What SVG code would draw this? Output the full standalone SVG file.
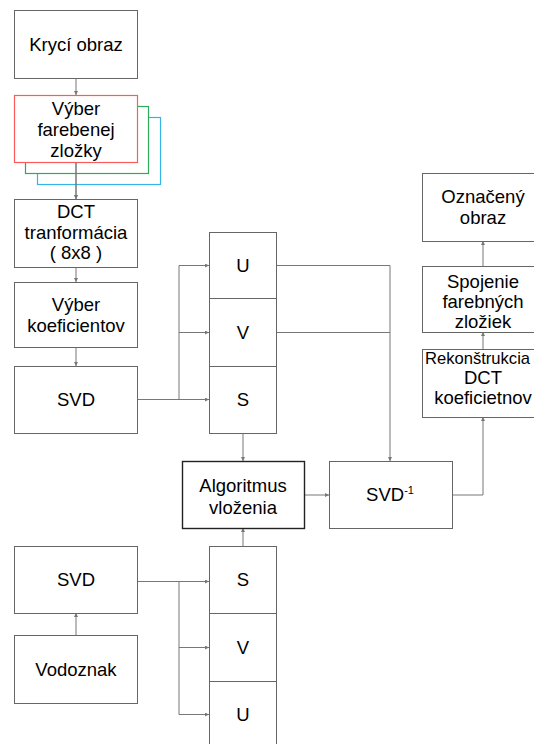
<svg xmlns="http://www.w3.org/2000/svg" width="534" height="744" viewBox="0 0 534 744">
  <style>
    .box { fill: #fff; stroke: #666; stroke-width: 1; }
    .strong { fill: #fff; stroke: #222; stroke-width: 1.4; }
    .t { font-family: "Liberation Sans", Arial, sans-serif; font-size: 18.5px; fill: #000; text-anchor: middle; }
    .sup { font-size: 11px; }
    .wire { fill: none; stroke: #777; stroke-width: 1; }
  </style>
  <defs>
    <marker id="tip" viewBox="0 0 6 6" refX="6" refY="3" markerWidth="4" markerHeight="4" orient="auto" markerUnits="userSpaceOnUse">
      <path d="M0,0 L6,3 L0,6 z" fill="#777"/>
    </marker>
  </defs>
  <rect width="534" height="744" fill="#fff"/>

  <!-- colour channel stack (behind the selection box) -->
  <g id="channels">
    <rect x="37.5" y="117.5" width="123" height="67" fill="#fff" stroke="#33b5e5" stroke-width="1.2"/>
    <rect x="25.5" y="106.5" width="123" height="67" fill="#fff" stroke="#2eaa5c" stroke-width="1.2"/>
  </g>

  <g id="connectors">
    <path class="wire" d="M76,79 V95" marker-end="url(#tip)"/>
    <path class="wire" d="M76,162 V199" marker-end="url(#tip)"/>
    <path class="wire" d="M76,268 V282" marker-end="url(#tip)"/>
    <path class="wire" d="M76,347 V366" marker-end="url(#tip)"/>
    <path class="wire" d="M137,399.5 H209" marker-end="url(#tip)"/>
    <path class="wire" d="M179,399.5 V265.5 H209" marker-end="url(#tip)"/>
    <path class="wire" d="M179,332.5 H209" marker-end="url(#tip)"/>
    <path class="wire" d="M276,265.5 H390 V461" marker-end="url(#tip)"/>
    <path class="wire" d="M276,332.5 H390"/>
    <path class="wire" d="M243,433 V461" marker-end="url(#tip)"/>
    <path class="wire" d="M243,546 V528" marker-end="url(#tip)"/>
    <path class="wire" d="M304,495 H329" marker-end="url(#tip)"/>
    <path class="wire" d="M452,495 H483 V417" marker-end="url(#tip)"/>
    <path class="wire" d="M483,349 V332" marker-end="url(#tip)"/>
    <path class="wire" d="M483,266 V241" marker-end="url(#tip)"/>
    <path class="wire" d="M137,581.5 H209" marker-end="url(#tip)"/>
    <path class="wire" d="M179,581.5 V714.5 H209" marker-end="url(#tip)"/>
    <path class="wire" d="M179,647.5 H209" marker-end="url(#tip)"/>
    <path class="wire" d="M76,635 V613" marker-end="url(#tip)"/>
  </g>

  <g id="kryci-obraz">
    <rect class="box" x="14.5" y="10.5" width="123" height="68"/>
    <text class="t" x="76" y="51">Krycí obraz</text>
  </g>

  <g id="vyber-zlozky">
    <rect x="14.5" y="95.5" width="123" height="67" fill="#fff" stroke="#ff5a5a" stroke-width="1.2"/>
    <text class="t" x="76" y="115">Výber</text>
    <text class="t" x="76" y="136">farebenej</text>
    <text class="t" x="76" y="157">zložky</text>
  </g>
  <!-- output line of the selection box runs over the channel stack -->
  <path class="wire" d="M76,162 V199" marker-end="url(#tip)"/>

  <g id="dct">
    <rect class="box" x="14.5" y="199.5" width="123" height="68"/>
    <text class="t" x="76" y="218">DCT</text>
    <text class="t" x="76" y="239">tranformácia</text>
    <text class="t" x="76" y="259">( 8x8 )</text>
  </g>

  <g id="vyber-koeficientov">
    <rect class="box" x="14.5" y="282.5" width="123" height="65"/>
    <text class="t" x="76" y="311">Výber</text>
    <text class="t" x="76" y="332">koeficientov</text>
  </g>

  <g id="svd-obraz">
    <rect class="box" x="14.5" y="366.5" width="123" height="67"/>
    <text class="t" x="76" y="406">SVD</text>
  </g>

  <g id="usv-obraz">
    <rect class="box" x="209.5" y="232.5" width="67" height="66"/>
    <rect class="box" x="209.5" y="298.5" width="67" height="68"/>
    <rect class="box" x="209.5" y="366.5" width="67" height="67"/>
    <text class="t" x="243" y="272">U</text>
    <text class="t" x="243" y="339">V</text>
    <text class="t" x="243" y="406">S</text>
  </g>

  <g id="algoritmus">
    <rect class="strong" x="182.5" y="461.5" width="122" height="67"/>
    <text class="t" x="243" y="492">Algoritmus</text>
    <text class="t" x="243" y="514">vloženia</text>
  </g>

  <g id="svd-inv">
    <rect class="box" x="329.5" y="461.5" width="123" height="67"/>
    <text class="t" x="390" y="501">SVD<tspan class="sup" dy="-7">-1</tspan></text>
  </g>

  <g id="oznaceny-obraz">
    <rect class="box" x="422.5" y="173.5" width="124" height="68"/>
    <text class="t" x="483" y="203">Označený</text>
    <text class="t" x="483" y="224">obraz</text>
  </g>

  <g id="spojenie">
    <rect class="box" x="422.5" y="266.5" width="124" height="66"/>
    <text class="t" x="483" y="288">Spojenie</text>
    <text class="t" x="483" y="308">farebných</text>
    <text class="t" x="483" y="328">zložiek</text>
  </g>

  <g id="rekonstrukcia">
    <rect class="box" x="422.5" y="349.5" width="124" height="68"/>
    <text class="t" x="477.5" y="364" style="font-size:16.6px">Rekonštrukcia</text>
    <text class="t" x="483" y="384">DCT</text>
    <text class="t" x="483" y="404">koeficietnov</text>
  </g>

  <g id="svd-vodoznak">
    <rect class="box" x="14.5" y="546.5" width="123" height="67"/>
    <text class="t" x="76" y="586">SVD</text>
  </g>

  <g id="vodoznak">
    <rect class="box" x="14.5" y="635.5" width="123" height="68"/>
    <text class="t" x="76" y="676">Vodoznak</text>
  </g>

  <g id="svu-vodoznak">
    <rect class="box" x="209.5" y="546.5" width="67" height="67"/>
    <rect class="box" x="209.5" y="613.5" width="67" height="68"/>
    <rect class="box" x="209.5" y="681.5" width="67" height="70"/>
    <text class="t" x="243" y="586">S</text>
    <text class="t" x="243" y="654">V</text>
    <text class="t" x="243" y="721">U</text>
  </g>
</svg>
